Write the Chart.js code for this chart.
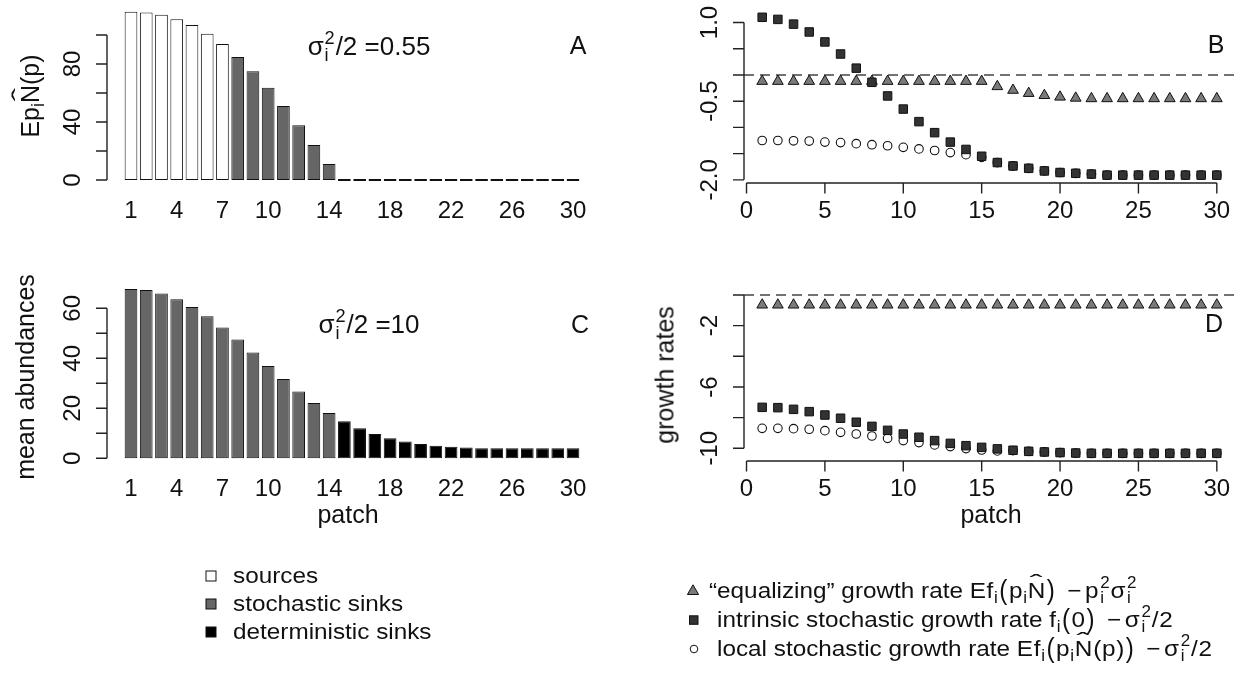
<!DOCTYPE html>
<html>
<head>
<meta charset="utf-8">
<title>Patch abundances and growth rates</title>
<script src="https://cdn.jsdelivr.net/npm/chart.js@4.4.1/dist/chart.umd.min.js"></script>
<style>
  html, body { margin: 0; padding: 0; background: #fff; }
  #page { position: relative; width: 1243px; height: 683px; overflow: hidden;
          font-family: "Liberation Sans", Arial, sans-serif; color: #111; }
  #page canvas { position: absolute; left: 0; top: 0; }
  .t  { position: absolute; white-space: nowrap; line-height: 1; transform: translate(-50%, -50%); }
  .vt { position: absolute; white-space: nowrap; line-height: 1; transform: translate(-50%, -50%) rotate(-90deg); }
  .lg { position: absolute; white-space: nowrap; line-height: 1; font-size: 22.5px;
        transform-origin: 0 50%; transform: translateY(-50%) scaleX(1.08); }
  .note { font-size: 26px; }
  .tag  { font-size: 25px; }
  .ttl  { font-size: 25px; }
  /* plotmath-like pieces: subscript, stacked sup/sub, hat, tall brackets */
  .m  { letter-spacing: .03em; }
  .sb { font-size: .7em; position: relative; top: .3em; }
  .ss { position: relative; display: inline-block; width: .46em; height: .8em; }
  .ss span { position: absolute; left: .05em; font-size: .7em; line-height: 1; }
  .ss .u { top: -.3em; }
  .ss .d { top: .65em; }
  .hat { position: relative; display: inline-block; }
  .hat::after { content: "\02C6"; position: absolute; left: 0; right: 0; text-align: center;
                top: -.36em; transform: scaleX(1.6); }
  .bp { display: inline-block; transform: scaleY(1.2); margin: 0 .03em; }
  .mi { display: inline-block; margin: 0 .12em 0 .45em; }
  #keys { position: absolute; left: 0; top: 0; }
</style>
</head>
<body>
<div id="page">
  <canvas id="panelA" width="1243" height="683"></canvas>
  <canvas id="panelB" width="1243" height="683"></canvas>
  <canvas id="panelC" width="1243" height="683"></canvas>
  <canvas id="panelD" width="1243" height="683"></canvas>

  <div class="t note" style="left:369px;top:46px">σ<span class="ss"><span class="u">2</span><span class="d">i</span></span>/2 =0.55</div>
  <div class="t note" style="left:369px;top:324px">σ<span class="ss"><span class="u">2</span><span class="d">i</span></span>/2 =10</div>
  <div class="t tag" style="left:578px;top:45px">A</div>
  <div class="t tag" style="left:1216px;top:44px">B</div>
  <div class="t tag" style="left:580px;top:324px">C</div>
  <div class="t tag" style="left:1214px;top:323px">D</div>

  <div class="vt ttl" style="left:30px;top:96px">Ep<span class="sb">i</span><span class="hat">N</span>(p)</div>
  <div class="vt ttl" style="left:25px;top:377px">mean abundances</div>
  <div class="vt ttl" style="left:665px;top:375px">growth rates</div>
  <div class="t ttl" style="left:348px;top:514px">patch</div>
  <div class="t ttl" style="left:991px;top:514px">patch</div>

  <svg id="keys" width="1243" height="683">
    <rect x="206" y="571" width="10" height="10" fill="#fff" stroke="#111" stroke-width="1"/>
    <rect x="206" y="599" width="10" height="10" fill="#666" stroke="#111" stroke-width="1"/>
    <rect x="206" y="627" width="10" height="10" fill="#000" stroke="#111" stroke-width="1"/>
    <polygon points="693,584.8 698.6,594.5 687.4,594.5" fill="#7a7a7a" stroke="#111" stroke-width="1"/>
    <rect x="689.5" y="615.8" width="8.5" height="8.5" fill="#333" stroke="#111" stroke-width="1"/>
    <circle cx="694" cy="649" r="3.8" fill="#fff" stroke="#111" stroke-width="1"/>
  </svg>
  <div class="lg" style="left:233px;top:576px">sources</div>
  <div class="lg" style="left:233px;top:604px">stochastic sinks</div>
  <div class="lg" style="left:233px;top:632px">deterministic sinks</div>
  <div class="lg" style="left:709px;top:591px">“equalizing” growth rate <span class="m">Ef<span class="sb">i</span><span class="bp">(</span>p<span class="sb">i</span><span class="hat">N</span><span class="bp">)</span><span class="mi">−</span>p<span class="ss"><span class="u">2</span><span class="d">i</span></span>σ<span class="ss"><span class="u">2</span><span class="d">i</span></span></span></div>
  <div class="lg" style="left:717px;top:620px">intrinsic stochastic growth rate <span class="m">f<span class="sb">i</span><span class="bp">(</span>0<span class="bp">)</span><span class="mi">−</span>σ<span class="ss"><span class="u">2</span><span class="d">i</span></span>/2</span></div>
  <div class="lg" style="left:717px;top:649px">local stochastic growth rate <span class="m">Ef<span class="sb">i</span><span class="bp">(</span>p<span class="sb">i</span><span class="hat">N</span>(p)<span class="bp">)</span><span class="mi">−</span>σ<span class="ss"><span class="u">2</span><span class="d">i</span></span>/2</span></div>
</div>

<script>
// patches along the gradient
const patches = [1, 2, 3, 4, 5, 6, 7, 8, 9, 10, 11, 12, 13, 14, 15,
                 16, 17, 18, 19, 20, 21, 22, 23, 24, 25, 26, 27, 28, 29, 30];

// patch classification for the two noise levels
const typeA = ["src", "src", "src", "src", "src", "src", "src",
               "sto", "sto", "sto", "sto", "sto", "sto", "sto",
               "det", "det", "det", "det", "det", "det", "det", "det",
               "det", "det", "det", "det", "det", "det", "det", "det"];
const typeC = ["sto", "sto", "sto", "sto", "sto", "sto", "sto",
               "sto", "sto", "sto", "sto", "sto", "sto", "sto",
               "det", "det", "det", "det", "det", "det", "det", "det",
               "det", "det", "det", "det", "det", "det", "det", "det"];

// mean abundances, sigma^2/2 = 0.55 (A) and sigma^2/2 = 10 (C)
const meanA = [116, 115.6, 114, 110.8, 106.9, 100.9, 93.8, 84.8, 75, 63.7,
               51, 37.7, 24.1, 11, 0, 0, 0, 0, 0, 0,
               0, 0, 0, 0, 0, 0, 0, 0, 0, 0];
const meanC = [67.7, 67.3, 65.9, 63.6, 60.5, 56.8, 52.3, 47.5, 42.3, 36.9,
               31.7, 26.7, 22.1, 18.1, 14.8, 12.0, 9.7, 8.0, 6.7, 5.7,
               5.0, 4.6, 4.3, 4.0, 4.0, 4.0, 4.0, 4.0, 4.0, 4.0];

// growth rates, sigma^2/2 = 0.55 (B)
const equalB = [-0.12, -0.12, -0.12, -0.12, -0.12, -0.12, -0.12, -0.12, -0.12, -0.12,
                -0.12, -0.12, -0.12, -0.12, -0.12, -0.22, -0.29, -0.35, -0.39, -0.42,
                -0.44, -0.45, -0.45, -0.45, -0.45, -0.45, -0.45, -0.45, -0.45, -0.45];
const intrinsicB = [1.10, 1.06, 0.97, 0.82, 0.63, 0.40, 0.13, -0.14, -0.40, -0.65,
                    -0.89, -1.10, -1.28, -1.42, -1.55, -1.67, -1.735, -1.78, -1.83, -1.86,
                    -1.875, -1.89, -1.91, -1.91, -1.91, -1.91, -1.91, -1.91, -1.91, -1.91];
const localB = [-1.25, -1.25, -1.255, -1.26, -1.28, -1.29, -1.31, -1.33, -1.35, -1.38,
                -1.41, -1.44, -1.48, -1.52, -1.57, -1.67, -1.735, -1.78, -1.83, -1.86,
                -1.875, -1.89, -1.91, -1.91, -1.91, -1.91, -1.91, -1.91, -1.91, -1.91];

// growth rates, sigma^2/2 = 10 (D)
const equalD = [-0.65, -0.65, -0.65, -0.65, -0.65, -0.65, -0.65, -0.65, -0.65, -0.65,
                -0.65, -0.65, -0.65, -0.65, -0.65, -0.65, -0.65, -0.65, -0.65, -0.65,
                -0.65, -0.65, -0.65, -0.65, -0.65, -0.65, -0.65, -0.65, -0.65, -0.65];
const intrinsicD = [-7.33, -7.35, -7.46, -7.61, -7.83, -8.04, -8.30, -8.57, -8.83, -9.07,
                    -9.28, -9.50, -9.68, -9.83, -9.94, -10.04, -10.13, -10.20, -10.24, -10.28,
                    -10.31, -10.33, -10.33, -10.33, -10.33, -10.33, -10.33, -10.33, -10.33, -10.33];
const localD = [-8.70, -8.70, -8.72, -8.76, -8.85, -8.96, -9.07, -9.20, -9.35, -9.50,
                -9.63, -9.78, -9.89, -10.02, -10.11, -10.17, -10.15, -10.20, -10.24, -10.28,
                -10.31, -10.33, -10.33, -10.33, -10.33, -10.33, -10.33, -10.33, -10.33, -10.33];

// axis ticks and labels
const ticksA = [0, 20, 40, 60, 80, 100];
const labelsA = ["0", "40", "80"];
const ticksC = [0, 10, 20, 30, 40, 50, 60];
const labelsC = ["0", "20", "40", "60"];
const ticksB = [1.0, 0.5, 0, -0.5, -1.0, -1.5, -2.0];
const labelsB = ["1.0", "-0.5", "-2.0"];
const ticksD = [0, -2, -4, -6, -8, -10];
const labelsD = ["-2", "-6", "-10"];
const barLabels = ["1", "4", "7", "10", "14", "18", "22", "26", "30"];
const rateTicks = ["0", "5", "10", "15", "20", "25", "30"];

const typeFill = { src: "#ffffff", sto: "#666666", det: "#000000" };
const TICK_FONT = '24px "Liberation Sans", Arial, sans-serif';

// base-graphics style axes: y line only between end ticks, rotated y labels
const rAxes = {
  id: "rAxes",
  beforeDatasetsDraw(chart, args, o) {
    if (o.refLine === null || o.refLine === undefined) return;
    const { ctx, chartArea } = chart;
    const y = chart.scales.y.getPixelForValue(o.refLine);
    ctx.save();
    ctx.strokeStyle = "#444";
    ctx.lineWidth = 1.6;
    ctx.setLineDash([10, 6]);
    ctx.beginPath();
    ctx.moveTo(chartArea.left, y);
    ctx.lineTo(chartArea.right + 4, y);
    ctx.stroke();
    ctx.restore();
  },
  afterDraw(chart, args, o) {
    const { ctx, chartArea } = chart;
    const xs = chart.scales.x, ys = chart.scales.y;
    const left = chartArea.left, bottom = chartArea.bottom;
    ctx.save();
    ctx.strokeStyle = "#222";
    ctx.fillStyle = "#111";
    ctx.lineWidth = 1.4;
    ctx.font = TICK_FONT;
    ctx.textAlign = "center";
    ctx.textBaseline = "middle";

    const yt = o.yTicks;
    ctx.beginPath();
    ctx.moveTo(left, ys.getPixelForValue(yt[0]));
    ctx.lineTo(left, ys.getPixelForValue(yt[yt.length - 1]));
    yt.forEach(v => {
      const p = ys.getPixelForValue(v);
      ctx.moveTo(left - 11, p);
      ctx.lineTo(left, p);
    });
    ctx.stroke();
    o.yLabels.forEach(s => {
      const p = ys.getPixelForValue(parseFloat(s));
      ctx.save();
      ctx.translate(left - 34, p);
      ctx.rotate(-Math.PI / 2);
      ctx.fillText(s, 0, 0);
      ctx.restore();
    });

    if (o.xAxis) {
      const xl = o.xLabels;
      ctx.beginPath();
      ctx.moveTo(xs.getPixelForValue(Number(xl[0])), bottom);
      ctx.lineTo(xs.getPixelForValue(Number(xl[xl.length - 1])), bottom);
      xl.forEach(s => {
        const p = xs.getPixelForValue(Number(s));
        ctx.moveTo(p, bottom);
        ctx.lineTo(p, bottom + 10.5);
      });
      ctx.stroke();
    }
    o.xLabels.forEach(s => {
      ctx.fillText(s, xs.getPixelForValue(Number(s)), bottom + o.labelGap);
    });
    ctx.restore();
  }
};

const common = {
  responsive: false,
  animation: false,
  devicePixelRatio: 1,
  events: [],
  plugins: { legend: { display: false }, tooltip: { enabled: false } }
};

function toXY(values) {
  return patches.map((p, i) => ({ x: p, y: values[i] }));
}

function barPanel(id, values, types, area, yRange, axes) {
  return new Chart(document.getElementById(id), {
    type: "bar",
    data: {
      datasets: [{
        data: toXY(values),
        backgroundColor: types.map(t => typeFill[t]),
        borderColor: "#111",
        borderWidth: 1,
        borderSkipped: false,
        minBarLength: 2,
        categoryPercentage: 1,
        barPercentage: 1 / 1.2
      }]
    },
    options: {
      ...common,
      layout: { padding: area },
      plugins: { ...common.plugins, rAxes: axes },
      scales: {
        x: { type: "linear", display: false, offset: false, min: -0.575, max: 31.64 },
        y: { type: "linear", display: false, min: yRange[0], max: yRange[1] }
      }
    },
    plugins: [rAxes]
  });
}

function ratePanel(id, equal, intrinsic, local, area, yRange, axes) {
  return new Chart(document.getElementById(id), {
    type: "scatter",
    data: {
      datasets: [
        { data: toXY(intrinsic), pointStyle: "rect", pointRadius: 6,
          backgroundColor: "#333333", borderColor: "#111", borderWidth: 1 },
        { data: toXY(local), pointStyle: "circle", pointRadius: 4.3,
          backgroundColor: "#ffffff", borderColor: "#111", borderWidth: 1.1 },
        { data: toXY(equal), pointStyle: "triangle", pointRadius: 6.2,
          backgroundColor: "#7a7a7a", borderColor: "#111", borderWidth: 1 }
      ]
    },
    options: {
      ...common,
      layout: { padding: area },
      plugins: { ...common.plugins, rAxes: axes },
      scales: {
        x: { type: "linear", display: false, min: -0.16, max: 31.16 },
        y: { type: "linear", display: false, min: yRange[0], max: yRange[1] }
      }
    },
    plugins: [rAxes]
  });
}

barPanel("panelA", meanA, typeA,
  { left: 107, top: 6, right: 645, bottom: 496.3 }, [-4.6, 120],
  { yTicks: ticksA, yLabels: labelsA, xLabels: barLabels, xAxis: false, labelGap: 24.8, refLine: null });

barPanel("panelC", meanC, typeC,
  { left: 107, top: 282, right: 645, bottom: 218 }, [-2.68, 70.52],
  { yTicks: ticksC, yLabels: labelsC, xLabels: barLabels, xAxis: false, labelGap: 24.5, refLine: null });

ratePanel("panelB", equalB, intrinsicB, localB,
  { left: 744, top: 11, right: 8, bottom: 500 }, [-2.06, 1.22],
  { yTicks: ticksB, yLabels: labelsB, xLabels: rateTicks, xAxis: true, labelGap: 28.5, refLine: 0 });

ratePanel("panelD", equalD, intrinsicD, localD,
  { left: 744, top: 289, right: 8, bottom: 222 }, [-10.83, 0.39],
  { yTicks: ticksD, yLabels: labelsD, xLabels: rateTicks, xAxis: true, labelGap: 28.5, refLine: 0 });
</script>
</body>
</html>
